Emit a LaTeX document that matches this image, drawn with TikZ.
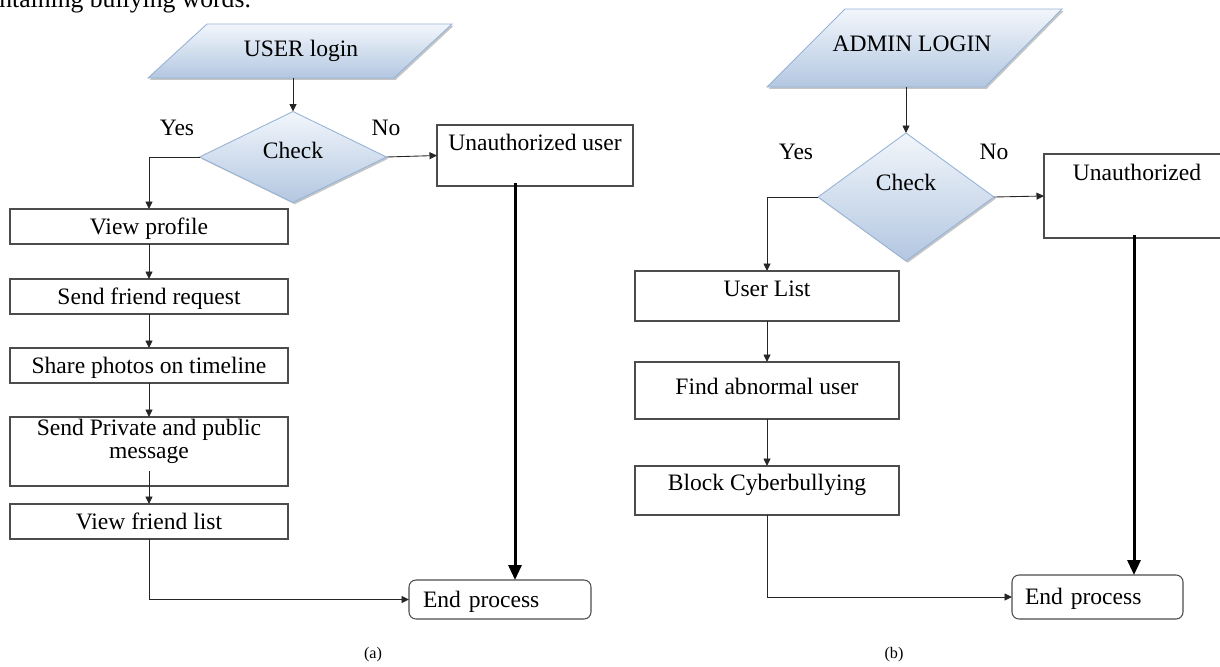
\documentclass[tikz,border=0pt]{standalone}
\usepackage{fontspec}
\setmainfont{Liberation Serif}
\usetikzlibrary{arrows.meta,shapes.geometric,shadows}
\definecolor{ioTop}{HTML}{F2F6FB}
\definecolor{ioBot}{HTML}{B3C7E1}
\definecolor{ioLine}{HTML}{95B3D7}
\tikzset{
	io/.style={draw=ioLine, line width=0.5pt, top color=ioTop, bottom color=ioBot,
		drop shadow={shadow xshift=0.35mm, shadow yshift=-0.35mm, fill=black!45, opacity=0.5}},
	check/.style={io, diamond, inner sep=0pt, outer sep=0pt, font=\fontsize{13.4}{16}\selectfont, text height=8.8pt},
	box/.style={draw=black!70, line width=0.6pt, fill=white, inner sep=0pt, outer sep=0pt,
		font=\fontsize{13.4}{13.1}\selectfont, text height=8.8pt, text depth=0pt},
	endbox/.style={box, rounded corners=1.4mm, align=left},
	lbl/.style={font=\fontsize{13.4}{13.1}\selectfont, inner sep=0pt},
	arr/.style={draw=black!85, line width=0.5pt, -{Triangle[length=1.5mm,width=1.4mm]}},
	bigarr/.style={draw=black, line width=1.7pt, -{Triangle[length=3mm,width=2.6mm]}}
}
\begin{document}
\begin{tikzpicture}[x=0.2mm,y=-0.2mm]
		\useasboundingbox (0,0) rectangle (1220,666);
		\node[anchor=base west, inner sep=0pt, font=\fontsize{14.6}{17}\selectfont] (pagetext) at (-1,7) {ntaining bullying words.};
		% (a) user
		\path[io] (148,78) -- (207,24) -- (452,24) -- (394,78) -- cycle;
		\node[lbl] (userlogin) at (301,51) {USER login};
		\coordinate (ubot) at (293,78);
		\node[check, minimum width=37.4mm, minimum height=18.2mm, text depth=6.8pt] (chk1) at (293,157) {Check};
		\node[lbl] (yes1) at (177,128) {Yes};
		\node[lbl] (no1) at (386,128) {No};
		\node[box, minimum width=39.2mm, minimum height=12.2mm, text depth=14.2pt] (unauth1) at (535,155.5) {Unauthorized user};
		\node[box, minimum width=55.6mm, minimum height=7mm] (vprof) at (149,226.5) {View profile};
		\node[box, minimum width=55.6mm, minimum height=7mm] (freq) at (149,296.5) {Send friend request};
		\node[box, minimum width=55.6mm, minimum height=7mm] (share) at (149,365.5) {Share photos on timeline};
		\node[box, minimum width=55.6mm, minimum height=13.8mm] (private) at (149,451.5) {};
		\node[lbl, align=center] (privtxt) at (149,441) {Send Private and public\\message};
		\node[box, minimum width=55.6mm, minimum height=7mm] (vfl) at (149,521.5) {View friend list};
		\node[endbox, inner xsep=2.8mm, text width=30.8mm, minimum height=7.8mm] (end1) at (500,599.5) {End process};
		\draw[arr] (ubot) -- (chk1.north);
		\draw[arr] (chk1.west) -| (vprof.north);
		\draw[arr] (chk1.east) -- (unauth1.west);
		\draw[arr] (vprof.south) -- (freq.north);
		\draw[arr] (freq.south) -- (share.north);
		\draw[arr] (share.south) -- (private.north);
		\coordinate (pmsg) at (149,471);
		\draw[arr] (pmsg) -- (vfl.north);
		\draw[arr] (vfl.south) |- (end1.west);
		\coordinate (u1) at (515,183);
		\draw[bigarr] (u1) -- (u1 |- end1.north);
		\node[font=\fontsize{9.2}{11}\selectfont] (capa) at (373,655) {(a)};
		% (b) admin
		\path[io] (767,87) -- (845,9) -- (1062,9) -- (985,87) -- cycle;
		\node[lbl] (adminlogin) at (912,44) {ADMIN LOGIN};
		\coordinate (abot) at (906,87);
		\node[check, minimum width=35.2mm, minimum height=25.6mm, text depth=16pt] (chk2) at (906,197) {Check};
		\node[lbl] (yes2) at (796,152) {Yes};
		\node[lbl] (no2) at (994,152) {No};
		\node[box, minimum width=37.2mm, minimum height=16.8mm, text depth=26.2pt] (unauth2) at (1137,196) {Unauthorized};
		\node[box, minimum width=52.8mm, minimum height=10mm, text depth=8pt] (ulist) at (767,296) {User List};
		\node[box, minimum width=52.8mm, minimum height=11.4mm, text depth=4pt] (findab) at (767,390.5) {Find abnormal user};
		\node[box, minimum width=52.8mm, minimum height=9.8mm, text depth=8.5pt] (block) at (767,490.5) {Block Cyberbullying};
		\node[endbox, inner xsep=2.6mm, text width=29mm, minimum height=8.8mm] (end2) at (1097.5,597) {End process};
		\draw[arr] (abot) -- (chk2.north);
		\draw[arr] (chk2.west) -| (ulist.north);
		\draw[arr] (chk2.east) -- (unauth2.west);
		\draw[arr] (ulist.south) -- (findab.north);
		\draw[arr] (findab.south) -- (block.north);
		\draw[arr] (block.south) |- (end2.west);
		\coordinate (u2) at (1134,235);
		\draw[bigarr] (u2) -- (u2 |- end2.north);
		\node[font=\fontsize{9.2}{11}\selectfont] (capb) at (894,655) {(b)};
\end{tikzpicture}
\end{document}
